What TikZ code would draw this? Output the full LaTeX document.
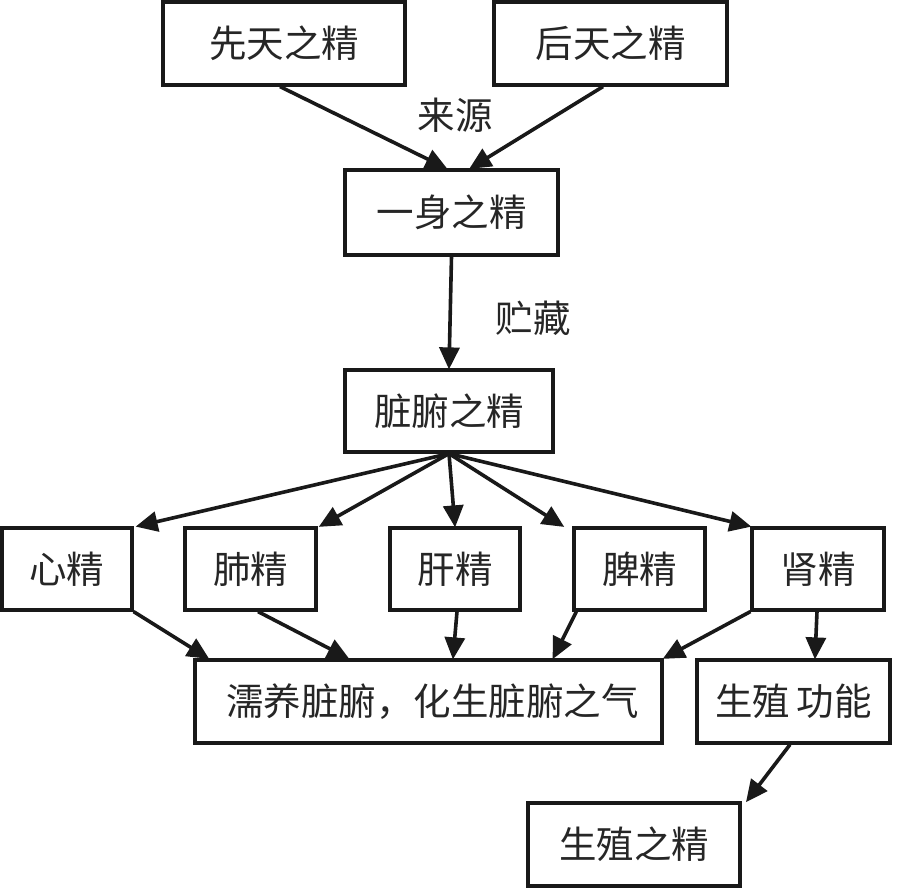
\documentclass[tikz,border=0pt]{standalone}
\usepackage{fontspec}
\setmainfont{Noto Sans CJK SC}
\usetikzlibrary{arrows.meta}
\begin{document}
\begin{tikzpicture}[x=1pt,y=-1pt,
  box/.style={draw=black!90,line width=3.2pt,minimum height=83pt,inner sep=0pt,font=\fontsize{37.5}{42}\selectfont,text=black!85},
  lbl/.style={font=\fontsize{37.5}{42}\selectfont,text=black!85},
  arr/.style={line width=3.6pt,draw=black!90,-{Triangle[length=22pt,width=20pt]},shorten >=-1pt}]
\useasboundingbox (0,0) rectangle (911,890);
\node[box,minimum width=242pt] (A) at (284,43.5) {先天之精};
\node[box,minimum width=233pt] (B) at (610.5,43.5) {后天之精};
\node[box,minimum width=213pt,minimum height=85pt] (C) at (451.5,212.5) {一身之精};
\node[box,minimum width=208pt,minimum height=82pt] (D) at (449,411) {脏腑之精};
\node[box,minimum width=130pt,minimum height=82pt] (E1) at (67,569) {心精};
\node[box,minimum width=131pt,minimum height=82pt] (E2) at (250.5,569) {肺精};
\node[box,minimum width=130pt,minimum height=82pt] (E3) at (455,569) {肝精};
\node[box,minimum width=131pt,minimum height=82pt] (E4) at (639.5,569) {脾精};
\node[box,minimum width=132pt,minimum height=82pt] (E5) at (818,569) {肾精};
\node[box,minimum width=467pt] (F) at (428.5,701.5) {\hspace*{8pt}濡养脏腑，化生脏腑之气};
\node[box,minimum width=193pt] (G) at (793.5,701.5) {生殖\,功能};
\node[box,minimum width=212pt] (H) at (634,844.5) {生殖之精};
\node[lbl] (L1) at (455,115) {来源};
\node[lbl] (L2) at (533,318) {贮藏};
\draw[arr] ([xshift=-4pt]A.south) -- ([xshift=-5pt]C.north);
\draw[arr] ([xshift=-7.5pt]B.south) -- ([xshift=18.5pt]C.north);
\draw[arr] (C.south) -- (D.north);
\draw[arr] (D.south) -- ([xshift=3pt]E1.north east);
\draw[arr] (D.south) -- ([xshift=2pt]E2.north east);
\draw[arr] (D.south) -- (E3.north);
\draw[arr] (D.south) -- ([xshift=-9pt]E4.north west);
\draw[arr] (D.south) -- (E5.north west);
\draw[arr] (E1.south east) -- ([xshift=15pt]F.north west);
\draw[arr] ([xshift=7.5pt]E2.south) -- ([xshift=155pt]F.north west);
\draw[arr] ([xshift=2pt]E3.south) -- ([xshift=24.5pt]F.north);
\draw[arr] ([xshift=4pt]E4.south west) -- ([xshift=124.5pt]F.north);
\draw[arr] (E5.south west) -- (F.north east);
\draw[arr] ([xshift=-1pt]E5.south) -- ([xshift=21.5pt]G.north);
\draw[arr] ([xshift=-3.5pt]G.south) -- ([xshift=5pt]H.north east);
\end{tikzpicture}
\end{document}
